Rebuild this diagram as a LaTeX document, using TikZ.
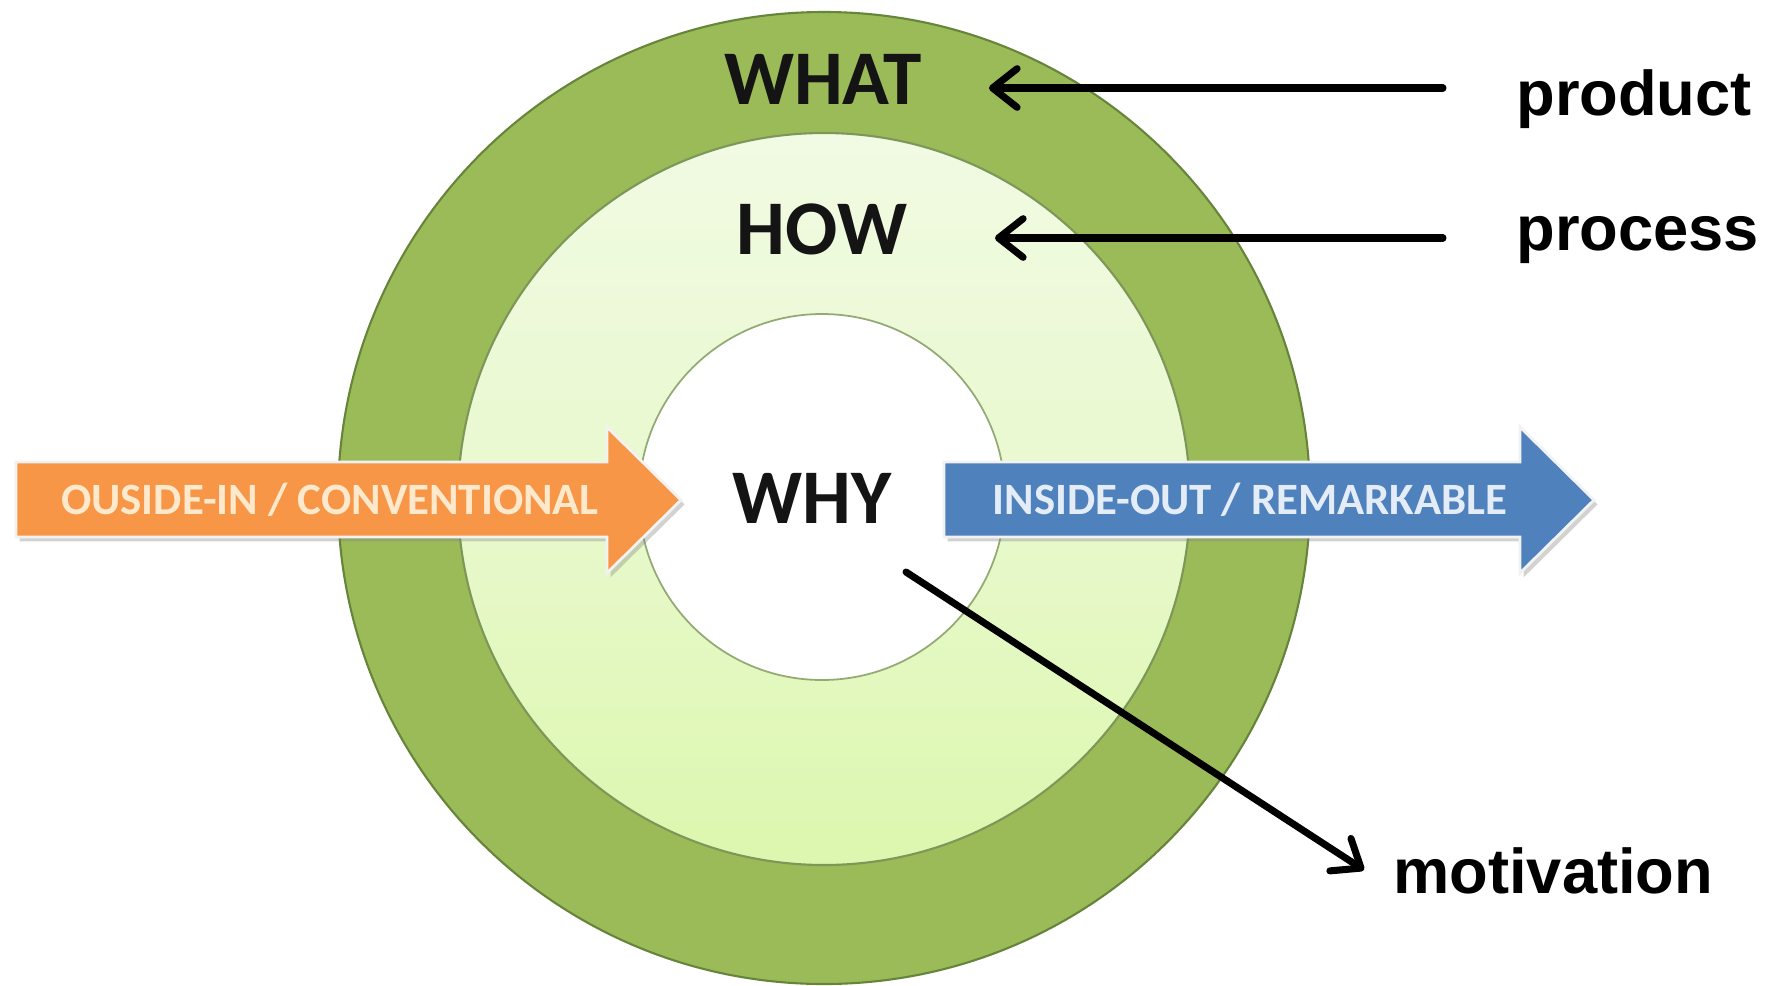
\documentclass[tikz,border=0pt]{standalone}
\usepackage{fontspec}
\setmainfont{Liberation Sans}
\newfontfamily\calfont{Carlito}
\usetikzlibrary{arrows.meta,calc,shadows}
\definecolor{olive}{HTML}{9BBB59}
\definecolor{oliveline}{HTML}{66853A}
\definecolor{lightgA}{HTML}{F1FAE3}
\definecolor{lightgB}{HTML}{DCF7AE}
\definecolor{orangeA}{HTML}{F79646}
\definecolor{blueA}{HTML}{4F81BD}
\definecolor{orangetxt}{HTML}{FFE9CC}
\definecolor{bluetxt}{HTML}{E3ECF7}
\tikzset{
  ring/.style={draw=oliveline, line width=1.2pt},
  blockarrow/.style={draw=white!90!gray, line width=1.6pt, line join=miter,
     drop shadow={opacity=0.35, shadow xshift=2pt, shadow yshift=-2.5pt}},
  bigword/.style={font=\calfont\bfseries\fontsize{44}{50}\selectfont, text=black!92, inner sep=0pt},
  arrowtext/.style={font=\calfont\bfseries\fontsize{25.5}{29}\selectfont, inner sep=0pt},
  sidelabel/.style={font=\bfseries\fontsize{36}{42}\selectfont, anchor=base west, inner sep=0pt},
  pointer/.style={line width=4pt, line cap=round,
     -{Straight Barb[length=14pt, width=22pt, line cap=round, line join=round]}}
}
\begin{document}
\begin{tikzpicture}[x=0.02cm, y=-0.02cm]
\useasboundingbox (0,0) rectangle (1776,985);
\fill[white] (0,0) rectangle (1776,985);
% circles
\draw[ring, fill=olive] (824,498) circle (486);
\shade[top color=lightgA, bottom color=lightgB, middle color=lightgA!60!lightgB] (824,499) circle (366);
\draw[ring, draw=oliveline!85] (824,499) circle (366);
\draw[fill=white, draw=oliveline!70, line width=1pt] (822,497) circle (183);
% words
\node[bigword] (what) at (823,79) {WHAT};
\node[bigword] (how) at (822,229) {HOW};
\node[bigword] (why) at (812,498) {WHY};
% block arrows
\path[blockarrow, fill=orangeA] (16,462) -- (607,462) -- (607,427) -- (681,500) -- (607,573) -- (607,537) -- (16,537) -- cycle;
\node[arrowtext, text=orangetxt] (outin) at (330,500) {OUSIDE-IN / CONVENTIONAL};
\path[blockarrow, fill=blueA] (944,462) -- (1520,462) -- (1520,427) -- (1594,500) -- (1520,573) -- (1520,537) -- (944,537) -- cycle;
\node[arrowtext, text=bluetxt] (inout) at (1250,500) {INSIDE-OUT / REMARKABLE};
% side labels
\node[sidelabel] (product) at (1516,115) {product};
\node[sidelabel] (process) at (1516,250) {process};
\node[sidelabel] (motivation) at (1393,893) {motivation};
% pointers
\coordinate (prodStart) at (1443,88);
\coordinate (whatTip) at (989,88);
\coordinate (procStart) at (1443,238);
\coordinate (howTip) at (995,238);
\coordinate (whyStart) at (906,572);
\coordinate (motTip) at (1364,870);
\draw[pointer] (prodStart) -- (whatTip);
\draw[pointer] (procStart) -- (howTip);
\draw[pointer] (whyStart) -- (motTip);
\end{tikzpicture}
\end{document}
